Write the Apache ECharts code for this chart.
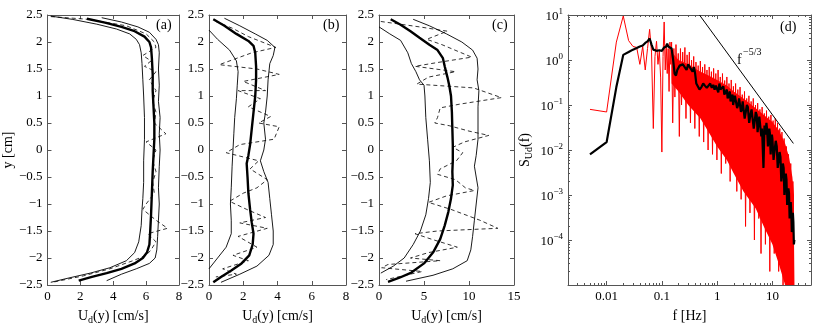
<!DOCTYPE html>
<html>
<head>
<meta charset="utf-8">
<script src="https://cdn.jsdelivr.net/npm/echarts@6/dist/echarts.min.js"></script>
<style>
  html, body { margin: 0; padding: 0; background: #fff; }
  #chart { width: 830px; height: 334px; }
</style>
</head>
<body>
<div id="chart"></div>
<script>
// profiles: [U_d, y] pairs
const aLow = [[0.2,2.48],[1.5,2.42],[3.0,2.33],[4.2,2.24],[5.0,2.15],[5.4,2.05],[5.6,1.95],[5.7,1.8],[5.75,1.6],[5.8,1.3],[5.85,1.0],[5.9,0.6],[5.9,0.2],[5.85,-0.2],[5.85,-0.6],[5.8,-0.9],[5.75,-1.1],[5.7,-1.4],[5.55,-1.7],[5.3,-1.9],[4.8,-2.05],[3.8,-2.18],[2.6,-2.28],[1.3,-2.37],[0.2,-2.45]];
const aMean = [[2.4,2.43],[3.5,2.36],[4.5,2.28],[5.3,2.2],[5.9,2.1],[6.2,2.0],[6.3,1.9],[6.35,1.7],[6.4,1.4],[6.4,1.1],[6.45,0.8],[6.5,0.5],[6.5,0.2],[6.45,-0.1],[6.4,-0.4],[6.35,-0.8],[6.3,-1.2],[6.25,-1.5],[6.2,-1.75],[6.05,-1.9],[5.8,-2.0],[5.3,-2.1],[4.5,-2.2],[3.6,-2.28],[2.7,-2.35],[1.9,-2.42]];
const aHigh = [[3.3,2.45],[4.5,2.37],[5.5,2.28],[6.2,2.18],[6.6,2.05],[6.75,1.95],[6.8,1.8],[6.75,1.5],[6.8,1.2],[6.75,0.9],[6.85,0.6],[6.8,0.3],[6.85,0],[6.8,-0.3],[6.75,-0.7],[6.8,-1.0],[6.75,-1.3],[6.7,-1.6],[6.65,-1.85],[6.55,-2.0],[6.2,-2.1],[5.4,-2.2],[4.5,-2.3],[3.6,-2.42]];
const aDash = [[0.2,2.47],[2.5,2.42],[4.8,2.3],[6.0,2.15],[6.5,2.0],[6.6,1.9],[5.8,1.75],[6.3,1.65],[5.9,1.55],[6.6,1.45],[6.2,1.3],[6.6,1.1],[6.4,0.9],[6.6,0.7],[6.5,0.5],[7.2,0.3],[6.0,0.15],[6.6,0.0],[6.4,-0.2],[6.6,-0.4],[6.4,-0.6],[6.5,-0.8],[6.0,-1.0],[5.8,-1.1],[6.6,-1.3],[7.3,-1.45],[6.1,-1.55],[6.6,-1.7],[6.3,-1.85],[6.0,-1.95],[5.2,-2.05],[3.8,-2.2],[2.2,-2.33],[0.3,-2.45]];

const bLow = [[0.0,2.22],[0.5,2.05],[1.2,1.85],[1.6,1.65],[1.7,1.45],[1.65,1.2],[1.6,0.95],[1.5,0.6],[1.45,0.3],[1.4,0.0],[1.35,-0.3],[1.3,-0.7],[1.25,-1.0],[1.3,-1.3],[1.3,-1.55],[1.0,-1.8],[0.5,-2.0],[0.0,-2.2]];
const bMean = [[0.25,2.42],[0.9,2.3],[1.6,2.15],[2.3,2.02],[2.6,1.93],[2.7,1.8],[2.75,1.55],[2.75,1.3],[2.7,1.0],[2.6,0.7],[2.5,0.4],[2.4,0.1],[2.3,-0.1],[2.2,-0.25],[2.25,-0.5],[2.3,-0.8],[2.4,-1.1],[2.5,-1.35],[2.6,-1.55],[2.55,-1.75],[2.35,-1.95],[1.9,-2.1],[1.3,-2.23],[0.7,-2.35],[0.25,-2.45]];
const bHigh = [[0.9,2.44],[1.8,2.3],[2.7,2.15],[3.4,2.03],[3.85,1.9],[3.75,1.75],[3.55,1.6],[3.45,1.3],[3.4,1.0],[3.3,0.7],[3.2,0.5],[3.3,0.2],[3.2,0.0],[3.0,-0.2],[3.2,-0.4],[3.45,-0.6],[3.55,-0.9],[3.65,-1.2],[3.75,-1.5],[3.75,-1.75],[3.5,-1.95],[2.8,-2.15],[1.8,-2.3],[0.7,-2.45]];
const bDash = [[0.4,2.38],[1.4,2.25],[2.3,2.1],[3.9,1.9],[2.5,1.8],[0.6,1.58],[2.8,1.5],[4.1,1.4],[2.0,1.27],[3.3,1.1],[1.7,1.1],[3.0,0.95],[2.3,0.8],[3.6,0.62],[2.9,0.5],[4.1,0.43],[3.8,0.2],[1.8,0.1],[1.0,-0.05],[2.9,-0.2],[2.4,-0.35],[3.4,-0.55],[2.8,-0.7],[2.0,-0.8],[1.2,-0.95],[2.2,-1.1],[3.3,-1.25],[1.8,-1.35],[3.4,-1.45],[1.7,-1.6],[2.8,-1.8],[1.4,-1.95],[2.3,-2.05],[0.8,-2.2],[1.6,-2.3],[0.4,-2.35]];

const cLow = [[0.0,2.28],[1.2,2.15],[2.4,2.03],[3.2,1.8],[3.6,1.6],[4.1,1.45],[4.5,1.3],[5.0,1.2],[5.1,1.0],[5.2,0.6],[5.4,0.2],[5.6,-0.2],[5.7,-0.6],[5.5,-0.9],[5.2,-1.2],[4.6,-1.5],[3.8,-1.75],[2.8,-2.0],[1.6,-2.15],[0.2,-2.28]];
const cMean = [[1.3,2.42],[2.4,2.32],[3.5,2.2],[4.5,2.08],[5.6,1.95],[6.5,1.85],[7.1,1.7],[7.3,1.55],[7.6,1.35],[7.8,1.2],[8.0,1.0],[8.1,0.7],[8.15,0.4],[8.2,0.1],[8.2,-0.2],[8.15,-0.4],[8.2,-0.65],[8.0,-0.9],[7.7,-1.15],[7.3,-1.4],[6.8,-1.65],[6.0,-1.9],[5.0,-2.1],[3.6,-2.27],[2.2,-2.37],[1.0,-2.44]];
const cHigh = [[3.8,2.42],[5.6,2.3],[7.5,2.15],[9.2,2.0],[10.4,1.85],[10.9,1.7],[11.0,1.5],[10.9,1.3],[11.1,1.1],[11.0,0.8],[11.0,0.5],[11.0,0.2],[10.8,-0.1],[10.6,-0.3],[10.8,-0.5],[11.0,-0.7],[10.8,-1.0],[10.6,-1.3],[10.4,-1.6],[10.2,-1.85],[9.8,-2.05],[8.2,-2.2],[6.0,-2.32],[3.0,-2.43]];
const cDash = [[0.2,2.38],[4.5,2.28],[7.6,2.2],[5.3,2.05],[7.0,1.95],[10.3,1.72],[6.5,1.62],[4.0,1.55],[8.5,1.45],[5.5,1.35],[4.2,1.22],[7.8,1.18],[10.5,1.15],[13.6,0.97],[9.0,0.85],[6.8,0.78],[6.5,0.6],[6.2,0.5],[7.8,0.45],[10.0,0.35],[12.2,0.27],[9.5,0.15],[8.2,0.05],[9.3,-0.05],[8.6,-0.2],[6.8,-0.35],[6.5,-0.45],[8.5,-0.55],[9.6,-0.7],[10.6,-0.75],[7.5,-0.85],[5.5,-0.97],[8.0,-1.1],[11.2,-1.3],[13.2,-1.45],[6.5,-1.5],[4.0,-1.55],[5.8,-1.65],[8.7,-1.8],[5.5,-1.9],[3.5,-2.0],[6.8,-2.05],[1.0,-2.12],[0.3,-2.18],[4.8,-2.25],[0.8,-2.4]];

// spectrum (d): [f Hz, S]
const rawSpec = [[0.005,0.08],[0.01,0.07],[0.015,2.5],[0.02,9.5],[0.025,2.7],[0.03,2.0],[0.035,1.9],[0.04,0.8],[0.045,2.0],[0.05,0.6],[0.055,1.8],[0.06,4.8],[0.065,1.5],[0.07,0.03],[0.075,1.2],[0.08,2.6],[0.085,0.8],[0.09,1.6],[0.095,0.4],[0.1,0.009],[0.105,1.2],[0.11,7.0],[0.115,0.6],[0.12,2.2],[0.125,0.5],[0.13,1.8],[0.135,0.2],[0.14,2.5],[0.145,0.8],
  [0.15,2.5],[0.157,0.04],[0.165,1.8],[0.172,0.15],[0.18,2.2],[0.189,0.3],[0.198,1.4],[0.207,0.02],[0.217,1.8],[0.227,0.1],[0.238,1.5],[0.249,0.25],[0.261,1.9],[0.273,0.05],[0.286,1.3],[0.3,0.2],[0.314,1.5],[0.329,0.04],[0.344,1.0],[0.36,0.15],[0.377,1.2],[0.395,0.03],[0.414,0.9],[0.433,0.1],[0.454,0.75],[0.475,0.02],[0.497,0.95],[0.521,0.08],[0.545,0.7],[0.571,0.015],[0.598,0.8],[0.626,0.06],[0.655,0.6],[0.686,0.01],[0.719,0.7],[0.752,0.05],[0.788,0.55],[0.825,0.008],[0.864,0.65],[0.904,0.03],[0.947,0.5],[0.991,0.006],[1.04,0.6],[1.09,0.04],[1.14,0.42],[1.19,0.003],[1.25,0.5],[1.31,0.02],[1.37,0.35],[1.43,0.005],[1.5,0.42],[1.57,0.015],[1.64,0.3],[1.72,0.002],[1.8,0.36],[1.89,0.01],[1.97,0.26],[2.07,0.004],[2.16,0.3],[2.27,0.0012],[2.37,0.22],[2.48,0.006],[2.6,0.25],[2.72,0.0008],[2.85,0.17],[2.99,0.003],[3.13,0.2],[3.27,0.0002],[3.43,0.14],[3.59,0.002],[3.76,0.16],[3.93,0.0004],[4.12,0.12],[4.31,0.0015],[4.51,0.14],[4.73,0.0001],[4.95,0.1],[5.18,0.0009],[5.42,0.11],[5.68,0.0003],[5.95,0.08],[6.23,0.00005],[6.52,0.09],[6.82,0.0006],[7.14,0.065],[7.48,0.00008],[7.83,0.075],[8.2,0.0004],[8.59,0.055],[8.99,0.00002],[9.41,0.06],[9.86,0.0002],[10.3,0.045],[10.8,0.00005],[11.3,0.05],[11.8,0.0001],[12.4,0.04],[13.0,0.00002],[13.6,0.03],[14.2,0.00008],[14.9,0.025],[15.6,0.00001],[16.3,0.018],[17.1,0.00004],[17.9,0.012],[18.7,0.00001],[19.6,0.008],[20.5,0.00003],[21.5,0.005],[22.5,0.00001],[23.5,0.002],[24.6,0.00001]];
// dense part of the raw spectrum, upper and lower edge
const rawTop = [[0.15,1.5],[0.2,1.0],[0.3,0.8],[0.5,0.55],[0.7,0.45],[1,0.36],[1.5,0.27],[2,0.2],[3,0.14],[5,0.085],[7,0.06],[10,0.042],[13,0.028],[17,0.014],[20,0.007],[23,0.0025],[24.6,0.001]];
const rawBottom = [[0.15,0.3],[0.2,0.2],[0.3,0.1],[0.5,0.05],[0.7,0.025],[1,0.012],[1.5,0.006],[2,0.003],[3,0.0012],[5,0.0005],[7,0.0002],[10,0.00008],[13,0.00003],[17,0.00001],[24.6,0.00001]];
const smoothSpec = [[0.005,0.008],[0.01,0.015],[0.015,0.25],[0.02,1.3],[0.025,1.5],[0.03,1.7],[0.035,1.85],[0.04,2.0],[0.045,2.1],[0.05,2.4],[0.055,2.6],[0.06,3.0],[0.065,2.2],[0.07,1.7],[0.075,1.8],[0.08,1.6],[0.09,1.65],[0.1,1.6],[0.11,1.9],[0.12,2.0],[0.125,2.3],[0.13,2.0],[0.14,1.9],[0.15,1.8],[0.16,1.0],[0.17,0.5],[0.18,0.45],[0.19,0.6],[0.2,0.55],[0.21,0.75],[0.22,0.7],[0.24,0.8],[0.26,0.75],[0.28,0.6],[0.3,0.8],[0.33,0.65],[0.36,0.55],[0.38,0.7],[0.4,0.5],[0.42,0.3],[0.45,0.28],[0.48,0.22],[0.52,0.25],[0.56,0.3],[0.6,0.27],[0.65,0.24],[0.7,0.26],[0.75,0.3],[0.8,0.24],[0.85,0.28],[0.9,0.22],[0.95,0.27],[1.0,0.25],[1.05,0.19],[1.1,0.3],[1.15,0.22],[1.2,0.2],[1.3,0.26],[1.35,0.17],[1.4,0.18],[1.5,0.22],[1.55,0.14],[1.6,0.15],[1.7,0.2],[1.75,0.12],[1.8,0.14],[1.9,0.17],[1.95,0.1],[2.0,0.12],[2.1,0.16],[2.2,0.15],[2.3,0.085],[2.4,0.1],[2.5,0.14],[2.6,0.13],[2.7,0.07],[2.8,0.08],[2.9,0.12],[3.0,0.11],[3.15,0.05],[3.3,0.07],[3.45,0.1],[3.6,0.09],[3.8,0.04],[4.0,0.06],[4.2,0.08],[4.4,0.075],[4.6,0.03],[4.8,0.045],[5.0,0.07],[5.2,0.06],[5.4,0.025],[5.6,0.04],[5.8,0.055],[6.0,0.05],[6.3,0.02],[6.5,0.03],[6.9,0.004],[7.2,0.035],[7.5,0.022],[7.8,0.04],[8.0,0.03],[8.3,0.012],[8.5,0.018],[8.8,0.03],[9.0,0.024],[9.3,0.008],[9.5,0.013],[9.8,0.022],[10,0.018],[10.5,0.006],[11,0.01],[11.5,0.016],[12,0.012],[12.5,0.004],[13,0.006],[13.5,0.009],[14,0.007],[14.5,0.002],[15,0.003],[15.5,0.005],[16,0.004],[16.5,0.001],[17,0.0018],[17.5,0.003],[18,0.0022],[18.5,0.0006],[19,0.0009],[19.5,0.0014],[20,0.0011],[20.5,0.0003],[21,0.0005],[21.5,0.0007],[22,0.0004],[22.5,0.00015],[23,0.0002],[23.5,0.0004],[24,0.00025],[24.5,0.00008],[25,0.0001]];
const slopeLine = [[0.48,10],[24,0.014]];

const FONT = 'Liberation Serif';
const BOX = '#555';

var chart = echarts.init(document.getElementById('chart'));

const grids = [
  { left: 43, top: 15, width: 136, height: 270 },
  { left: 209, top: 15, width: 137, height: 270 },
  { left: 379, top: 15, width: 135, height: 270 },
  { left: 568, top: 15, width: 243, height: 270 }
];

function minus(v) { return v < 0 ? '\u2212' + (-v) : String(v); }

const tick = { show: true, inside: true, length: 4, lineStyle: { color: BOX, width: 1 } };
const minor = { show: true, splitNumber: 9, length: 2, lineStyle: { color: BOX, width: 1 } };
const line = { show: true, onZero: false, lineStyle: { color: BOX, width: 1 } };
const lab = { color: '#000', fontFamily: FONT, fontSize: 13, margin: 5 };
const udName = '{n|U}{s|d}{n|(y) [cm/s]}';
const udRich = {
  n: { fontFamily: FONT, fontSize: 14, color: '#000', lineHeight: 18, verticalAlign: 'middle' },
  s: { fontFamily: FONT, fontSize: 10, color: '#000', lineHeight: 18, verticalAlign: 'bottom' }
};

const xMax = [8, 8, 15];
const xStep = [2, 2, 5];

let xAxes = [], yAxes = [];
for (let i = 0; i < 3; i++) {
  xAxes.push({ type: 'value', gridIndex: i, min: 0, max: xMax[i], interval: xStep[i], position: 'bottom',
    axisLine: line, axisTick: tick, splitLine: { show: false },
    axisLabel: Object.assign({ formatter: minus }, lab),
    name: udName, nameLocation: 'middle', nameGap: 22, nameTextStyle: { rich: udRich } });
  yAxes.push({ type: 'value', gridIndex: i, min: -2.5, max: 2.5, interval: 0.5, position: 'left',
    axisLine: line, axisTick: tick, splitLine: { show: false },
    axisLabel: Object.assign({ formatter: minus }, lab),
    name: i === 0 ? 'y [cm]' : '', nameLocation: 'middle', nameGap: 25,
    nameTextStyle: { fontFamily: FONT, fontSize: 14, color: '#000' } });
}
// (d) log axes
xAxes.push({ type: 'log', gridIndex: 3, min: 0.002, max: 50, position: 'bottom',
  axisLine: line, axisTick: tick, minorTick: minor, splitLine: { show: false },
  axisLabel: Object.assign({ formatter: function (v) {
    const e = Math.log10(v), r = Math.round(e);
    if (Math.abs(e - r) > 1e-6) return '';
    return ['0.01', '0.1', '1', '10'][r + 2] || '';
  } }, lab),
  name: 'f [Hz]', nameLocation: 'middle', nameGap: 24,
  nameTextStyle: { fontFamily: FONT, fontSize: 14, color: '#000' } });
yAxes.push({ type: 'log', gridIndex: 3, min: 0.00001, max: 10, position: 'left',
  axisLine: line, axisTick: tick, minorTick: minor, splitLine: { show: false },
  axisLabel: Object.assign({ formatter: function (v) {
    const e = Math.log10(v), r = Math.round(e);
    if (Math.abs(e - r) > 1e-6 || r === -5) return '';
    return '{b|10}{e|' + minus(r) + '}';
  }, rich: {
    b: { fontFamily: FONT, fontSize: 13, color: '#000', lineHeight: 16, verticalAlign: 'bottom' },
    e: { fontFamily: FONT, fontSize: 9, color: '#000', lineHeight: 16, verticalAlign: 'top' }
  } }, lab),
  name: '{n|S}{s|Ud}{n|(f)}', nameLocation: 'middle', nameGap: 34,
  nameTextStyle: { rich: udRich } });

// mirrored box axes (top / right), ticks only
for (let i = 0; i < 4; i++) {
  const bx = xAxes[i], by = yAxes[i];
  xAxes.push({ type: bx.type, gridIndex: i, min: bx.min, max: bx.max, interval: bx.interval, position: 'top',
    axisLine: line, axisTick: tick, minorTick: bx.minorTick, axisLabel: { show: false }, splitLine: { show: false } });
  yAxes.push({ type: by.type, gridIndex: i, min: by.min, max: by.max, interval: by.interval, position: 'right',
    axisLine: line, axisTick: tick, minorTick: by.minorTick, axisLabel: { show: false }, splitLine: { show: false } });
}

function prof(data, gi, width, dashed) {
  return { type: 'line', xAxisIndex: gi, yAxisIndex: gi, data: data, showSymbol: false,
    lineStyle: { color: '#000', width: width, type: dashed ? [4, 3] : 'solid' }, silent: true, z: 3 };
}

const series = [
  prof(aLow, 0, 0.9), prof(aHigh, 0, 0.9), prof(aDash, 0, 0.8, true), prof(aMean, 0, 2.4),
  prof(bLow, 1, 0.9), prof(bHigh, 1, 0.9), prof(bDash, 1, 0.8, true), prof(bMean, 1, 2.4),
  prof(cLow, 2, 0.9), prof(cHigh, 2, 0.9), prof(cDash, 2, 0.8, true), prof(cMean, 2, 2.4),
  { type: 'custom', xAxisIndex: 3, yAxisIndex: 3, data: [0], silent: true, clip: true, z: 1,
    renderItem: function (params, api) {
      const ring = rawTop.concat(rawBottom.slice().reverse());
      return { type: 'polygon', shape: { points: ring.map(function (p) { return api.coord(p); }) },
        style: { fill: '#ff0000' } };
    } },
  { type: 'line', xAxisIndex: 3, yAxisIndex: 3, data: rawSpec, showSymbol: false, silent: true,
    lineStyle: { color: '#ff0000', width: 1 }, z: 2 },
  { type: 'line', xAxisIndex: 3, yAxisIndex: 3, data: smoothSpec, showSymbol: false, silent: true,
    lineStyle: { color: '#000', width: 2.2 }, z: 3 },
  { type: 'line', xAxisIndex: 3, yAxisIndex: 3, data: slopeLine, showSymbol: false, silent: true,
    lineStyle: { color: '#000', width: 1 }, z: 4 }
];

const txt = { fontFamily: FONT, fontSize: 14, fill: '#000' };
const option = {
  animation: false,
  backgroundColor: '#fff',
  grid: grids,
  xAxis: xAxes,
  yAxis: yAxes,
  series: series,
  graphic: [
    { type: 'text', left: 156, top: 18, style: Object.assign({ text: '(a)' }, txt) },
    { type: 'text', left: 323, top: 18, style: Object.assign({ text: '(b)' }, txt) },
    { type: 'text', left: 492, top: 18, style: Object.assign({ text: '(c)' }, txt) },
    { type: 'text', left: 780, top: 20, style: Object.assign({ text: '(d)' }, txt) },
    { type: 'text', left: 737, top: 53, style: Object.assign({ text: 'f' }, txt) },
    { type: 'text', left: 743, top: 47, style: { text: '\u22125/3', fontFamily: FONT, fontSize: 10, fill: '#000' } }
  ]
};

chart.setOption(option);
</script>
</body>
</html>
